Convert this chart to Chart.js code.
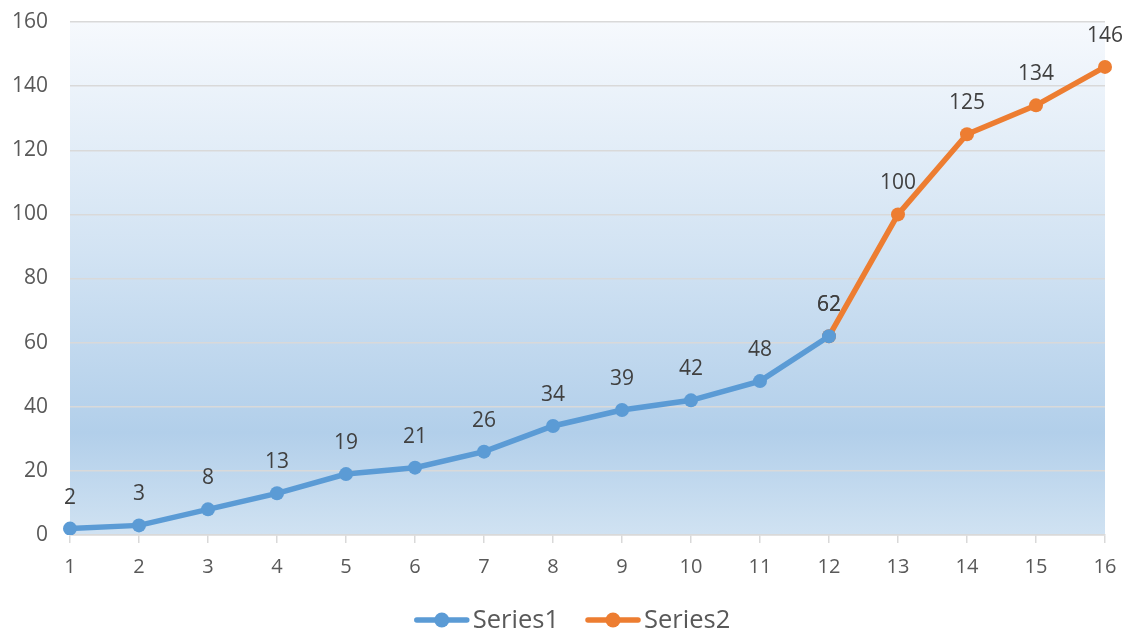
<!DOCTYPE html>
<html>
<head>
<meta charset="utf-8">
<script src="https://cdn.jsdelivr.net/npm/chart.js@4/dist/chart.umd.min.js"></script>
<style>
  html, body { margin: 0; padding: 0; background: #fff; }
  #wrap { width: 1125px; height: 630px; }
</style>
</head>
<body>
<div id="wrap"><canvas id="chart" width="1125" height="630"></canvas></div>
<script>
const categories = ['1','2','3','4','5','6','7','8','9','10','11','12','13','14','15','16'];
const series1 = [2, 3, 8, 13, 19, 21, 26, 34, 39, 42, 48, 62, null, null, null, null];
const series2 = [null, null, null, null, null, null, null, null, null, null, null, 62, 100, 125, 134, 146];
const yTicks = [0, 20, 40, 60, 80, 100, 120, 140, 160];

const BLUE = '#5b9bd5';
const ORANGE = '#ed7d31';
const FONT = "'Open Sans', 'Liberation Sans', sans-serif";

const plotBackground = {
  id: 'plotBackground',
  beforeDraw(chart) {
    const { ctx, chartArea: a } = chart;
    const grad = ctx.createLinearGradient(0, a.top, 0, a.bottom);
    grad.addColorStop(0, '#f6f9fd');
    grad.addColorStop(0.45, '#d2e3f3');
    grad.addColorStop(0.8, '#b2cfea');
    grad.addColorStop(1, '#d0e2f2');
    ctx.save();
    ctx.fillStyle = grad;
    ctx.fillRect(a.left, a.top, a.right - a.left, a.bottom - a.top);
    ctx.restore();
  }
};

const pointLabels = {
  id: 'pointLabels',
  afterDatasetsDraw(chart) {
    const ctx = chart.ctx;
    ctx.save();
    ctx.font = '21px ' + FONT;
    ctx.fillStyle = '#404040';
    ctx.textAlign = 'center';
    ctx.textBaseline = 'middle';
    chart.data.datasets.forEach((ds, i) => {
      const meta = chart.getDatasetMeta(i);
      meta.data.forEach((pt, j) => {
        const v = ds.data[j];
        if (v === null || v === undefined) return;
        ctx.fillText(String(v), pt.x, pt.y - 31);
      });
    });
    ctx.restore();
  }
};

// legend drawn by hand: line + dot marker, then the series name
const lineLegend = {
  id: 'lineLegend',
  afterDraw(chart) {
    const ctx = chart.ctx;
    const y = 620;
    ctx.save();
    ctx.font = '25.5px ' + FONT;
    const items = chart.data.datasets.map(ds => ({ text: ds.label, color: ds.borderColor, w: ctx.measureText(ds.label).width }));
    const markW = 54, gap = 4, between = 27;
    let total = 0;
    items.forEach((it, i) => { total += markW + gap + it.w + (i ? between : 0); });
    let x = chart.width / 2 - total / 2 + 10;
    items.forEach((it, i) => {
      if (i) x += between;
      ctx.strokeStyle = it.color;
      ctx.lineWidth = 5.5;
      ctx.lineCap = 'round';
      ctx.beginPath(); ctx.moveTo(x + 2, y); ctx.lineTo(x + markW - 2, y); ctx.stroke();
      ctx.fillStyle = it.color;
      ctx.beginPath(); ctx.arc(x + markW / 2, y, 7.5, 0, Math.PI * 2); ctx.fill();
      x += markW + gap;
      ctx.fillStyle = '#595959';
      ctx.textAlign = 'left';
      ctx.textBaseline = 'middle';
      ctx.fillText(it.text, x, y + 1);
      x += it.w;
    });
    ctx.restore();
  }
};

new Chart(document.getElementById('chart').getContext('2d'), {
  type: 'line',
  data: {
    labels: categories,
    datasets: [
      {
        label: 'Series1',
        data: series1,
        borderColor: BLUE,
        backgroundColor: BLUE,
        borderWidth: 5.5,
        pointRadius: 7,
        pointHoverRadius: 7,
        pointBorderWidth: 0,
        tension: 0,
        order: 1
      },
      {
        label: 'Series2',
        data: series2,
        borderColor: ORANGE,
        backgroundColor: ORANGE,
        borderWidth: 5.5,
        pointRadius: 7,
        pointHoverRadius: 7,
        pointBorderWidth: 0,
        tension: 0,
        order: 2
      }
    ]
  },
  options: {
    responsive: false,
    animation: false,
    layout: { padding: { top: 22, right: 20, left: 0, bottom: 55 } },
    scales: {
      x: {
        offset: false,
        afterFit(scale) { scale.height = 40; scale.paddingLeft = 0; scale.paddingRight = 0; },
        grid: {
          drawOnChartArea: false,
          drawTicks: true,
          tickLength: 8,
          color: '#d9d9d9',
          lineWidth: 1.5
        },
        border: { color: '#d9d9d9', width: 1.5 },
        ticks: { color: '#595959', font: { family: FONT, size: 20 }, padding: 12, maxRotation: 0, autoSkip: false }
      },
      y: {
        min: 0,
        max: 160,
        afterFit(scale) { scale.width = 70; scale.paddingTop = 0; scale.paddingBottom = 0; },
        afterBuildTicks(scale) { scale.ticks = yTicks.map(v => ({ value: v })); },
        grid: { color: '#d9d9d9', lineWidth: 1.5, drawTicks: false },
        border: { display: false },
        ticks: { color: '#595959', font: { family: FONT, size: 21 }, padding: 22 }
      }
    },
    plugins: {
      legend: { display: false },
      tooltip: { enabled: false }
    }
  },
  plugins: [plotBackground, pointLabels, lineLegend]
});
</script>
</body>
</html>
